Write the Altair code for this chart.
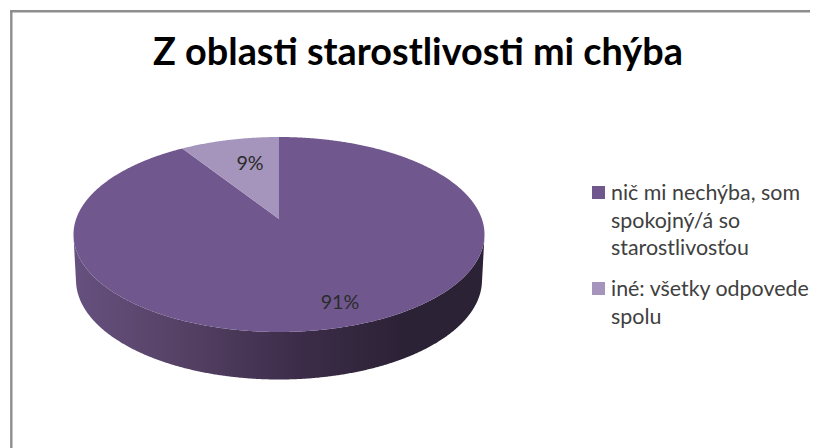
import numpy as np
import pandas as pd
import altair as alt

TITLE = "Z oblasti starostlivosti mi chýba"
CATEGORIES = ["nič mi nechýba, som|spokojný/á so|starostlivosťou", "iné: všetky odpovede|spolu"]
SHARES = [91, 9]
COLORS = ["#70588f", "#a594bb"]
LABELS = ["91%", "9%"]

# pie geometry in page pixels
CX, CY, RX, RY = 279.0, 234.5, 205.5, 97.5
APEX_Y = 219.0
BOTTOM_CY, BOTTOM_RX, BOTTOM_RY = 280.0, 203.0, 99.5
TILT = 0.84   # foreshortening of the slice angle under the 3D view


def top_edge(x):
    return CY - RY * np.sqrt(np.clip(1 - ((x - CX) / RX) ** 2, 0, 1))


def low_edge(x):
    return CY + RY * np.sqrt(np.clip(1 - ((x - CX) / RX) ** 2, 0, 1))


ang = 2 * np.pi * SHARES[1] / sum(SHARES)
phi = np.arctan(np.tan(ang) * TILT)
xb = CX - RX * np.sin(phi)
yb = float(top_edge(xb))

xs = CX + RX * np.sin(np.linspace(-np.pi / 2, np.pi / 2, 500))


def feature(px, py, cat):
    ring = [[float(a), float(b)] for a, b in zip(px, py)]
    ring.append(ring[0])
    return {"type": "Feature", "properties": {"cat": cat},
            "geometry": {"type": "Polygon", "coordinates": [ring]}}


# main slice: whole lower rim, up the left rim, in to the apex, up to the top, round the right rim
x_left = xs[xs < xb]
x_right = xs[xs > CX]
main_px = np.concatenate([xs[::-1], x_left, [xb, CX, CX], x_right])
main_py = np.concatenate([low_edge(xs[::-1]), top_edge(x_left), [yb, APEX_Y, top_edge(CX)], top_edge(x_right)])

# small slice
w_x = np.linspace(xb, CX, 80)
wedge_px = np.concatenate([w_x, [CX]])
wedge_py = np.concatenate([top_edge(w_x), [APEX_Y]])

# side wall
wall_lo = low_edge(xs)
for s in np.linspace(0, 1, 60):
    rx_s = RX + (BOTTOM_RX - RX) * s
    ry_s = RY + (BOTTOM_RY - RY) * s
    cy_s = CY + (BOTTOM_CY - CY) * s
    inner = np.clip(1 - ((xs - CX) / rx_s) ** 2, 0, None)
    y_s = np.where(inner > 0, cy_s + ry_s * np.sqrt(inner), 0)
    wall_lo = np.maximum(wall_lo, y_s)
wall_px = np.concatenate([xs, xs[::-1]])
wall_py = np.concatenate([low_edge(xs), wall_lo[::-1]])

PROJ = dict(type="identity", scale=1, translate=[-8, -8])
X = alt.X("x:Q", scale=alt.Scale(domain=[8, 810], nice=False, zero=False), axis=None)
Y = alt.Y("y:Q", scale=alt.Scale(domain=[448, 8], nice=False, zero=False), axis=None)
cscale = alt.Scale(domain=CATEGORIES, range=COLORS)
COLOR = alt.Color("properties.cat:N", scale=cscale, legend=None)
COLOR2 = alt.Color("cat:N", scale=cscale, legend=None)

wall = alt.Chart(alt.Data(values=[feature(wall_px, wall_py, "wall")])).mark_geoshape(
    opacity=1,
    fill=alt.Gradient(
        gradient="linear", x1=0, x2=1, y1=0, y2=0,
        stops=[
            alt.GradientStop(offset=0, color="#66517f"),
            alt.GradientStop(offset=0.25, color="#564266"),
            alt.GradientStop(offset=0.55, color="#3c2c49"),
            alt.GradientStop(offset=0.8, color="#2c2236"),
            alt.GradientStop(offset=1, color="#2c2236"),
        ],
    ),
).project(**PROJ)

slices = alt.Chart(alt.Data(values=[feature(main_px, main_py, CATEGORIES[0]),
                                    feature(wedge_px, wedge_py, CATEGORIES[1])])).mark_geoshape(
    opacity=1).encode(color=COLOR).project(**PROJ)

label_df = pd.DataFrame({"x": [340.0, 250.0], "y": [303.0, 164.0], "t": LABELS})
labels = alt.Chart(label_df).mark_text(font="Lato", fontSize=19.7, color="#2b2b2b", baseline="middle").encode(
    x=X, y=Y, text="t:N")

# legend
legend_df = pd.DataFrame({"x": [598.5, 598.5], "y": [192.5, 288.5], "cat": CATEGORIES})
swatch = alt.Chart(legend_df).mark_square(size=169, opacity=1).encode(x=X, y=Y, color=COLOR2)
text_df = pd.DataFrame({"x": [611.0, 611.0], "y": [200.0, 296.0], "cat": CATEGORIES})
legend_text = alt.Chart(text_df).mark_text(
    font="Lato", fontSize=21.4, color="#404040", align="left", baseline="alphabetic",
    lineBreak="|", lineHeight=27.5,
).encode(x=X, y=Y, text="cat:N")

one = pd.DataFrame({"a": [0]})
left = alt.Chart(one).mark_rule(color="#8e8e8e", strokeWidth=2.4).encode(
    x=alt.value(3.3), y=alt.value(2), y2=alt.value(440))
top = alt.Chart(one).mark_rule(color="#8e8e8e", strokeWidth=2.4).encode(
    x=alt.value(2), x2=alt.value(802), y=alt.value(3.3))

chart = (
    alt.layer(wall, slices, labels, swatch, legend_text, left, top)
    .properties(
        width=802, height=440, padding=0,
        autosize=alt.AutoSizeParams(type="none"),
        title=alt.TitleParams(TITLE, font="Lato", fontSize=37.8, fontWeight="bold", color="#000000",
                              anchor="start", dx=145, dy=69),
    )
    .configure_view(stroke=None)
)

chart.save("out.html", embed_options={"renderer": "svg", "actions": False})
